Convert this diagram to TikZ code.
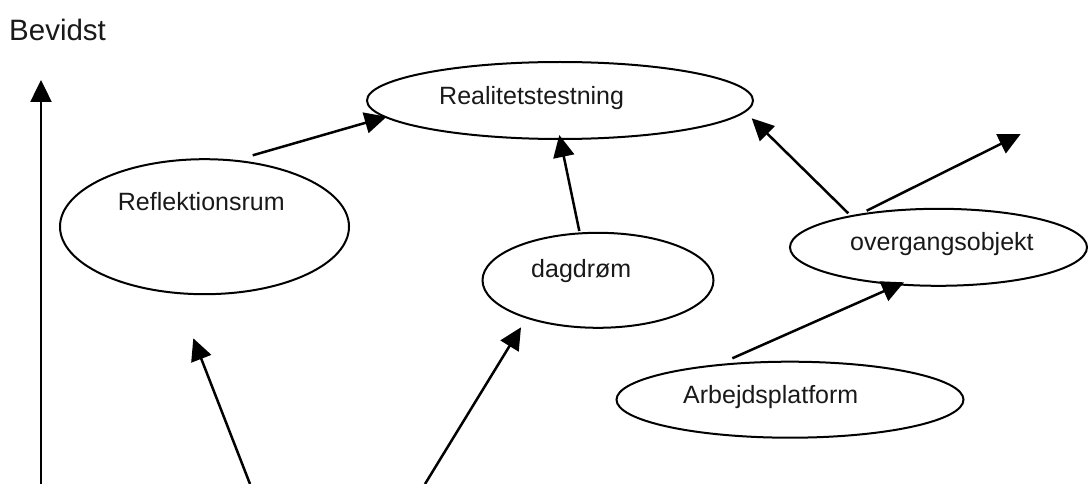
\documentclass[tikz,border=0pt]{standalone}
\usepackage{fontspec}
\setmainfont{Liberation Sans}
\usetikzlibrary{shapes.geometric,arrows.meta}
\begin{document}
\begin{tikzpicture}[x=1pt,y=-1pt,
  oval/.style={ellipse,draw=black,line width=2pt,inner sep=0pt},
  lbl/.style={inner sep=0pt,anchor=base west,font=\fontsize{25}{30}\selectfont,text=black!90},
  conn/.style={line width=2.5pt,-{Triangle[length=22pt,width=21pt]}}]
\useasboundingbox (0,0) rectangle (1088,484);

% axis title
\node[lbl,font=\fontsize{29.5}{34}\selectfont] (bevidst) at (9,41) {Bevidst};

% ellipses
\node[oval,minimum width=386pt,minimum height=77pt] (real) at (560,100.5) {};
\node[oval,minimum width=289pt,minimum height=135pt] (refl) at (204.5,226.7) {};
\node[oval,minimum width=231pt,minimum height=95pt] (dag) at (598,280.3) {};
\node[oval,minimum width=297pt,minimum height=77pt] (overg) at (938.5,247.3) {};
\node[oval,minimum width=347pt,minimum height=76pt] (arb) at (790,399.7) {};

% labels
\node[lbl] (realT) at (439,104.3) {Realitetstestning};
\node[lbl] (reflT) at (117.7,211) {Reflektionsrum};
\node[lbl] (dagT) at (531,277.7) {dagdrøm};
\node[lbl] (overgT) at (850,251) {overgangsobjekt};
\node[lbl] (arbT) at (683,403.3) {Arbejdsplatform};

% connector end points
\coordinate (axisBot) at (41,484);
\coordinate (axisTop) at (41,80);
\coordinate (reflOut) at (252.7,155.3);
\coordinate (realInL) at (386.7,116.7);
\coordinate (dagOut) at (579.3,231);
\coordinate (realInB) at (559.3,135);
\coordinate (overgOutL) at (848.3,213.3);
\coordinate (realInR) at (751.7,118.3);
\coordinate (overgOutR) at (866.7,210.7);
\coordinate (freeTR) at (1020.7,134);
\coordinate (arbOut) at (732.3,358.3);
\coordinate (overgIn) at (904,282.3);
\coordinate (botL) at (250,484);
\coordinate (reflIn) at (193.3,338.3);
\coordinate (botR) at (425,484);
\coordinate (dagIn) at (521,327.3);

% connectors
\draw[conn] (axisBot) -- (axisTop);
\draw[conn] (reflOut) -- (realInL);
\draw[conn] (dagOut) -- (realInB);
\draw[conn] (overgOutL) -- (realInR);
\draw[conn] (overgOutR) -- (freeTR);
\draw[conn] (arbOut) -- (overgIn);
\draw[conn] (botL) -- (reflIn);
\draw[conn] (botR) -- (dagIn);
\end{tikzpicture}
\end{document}
